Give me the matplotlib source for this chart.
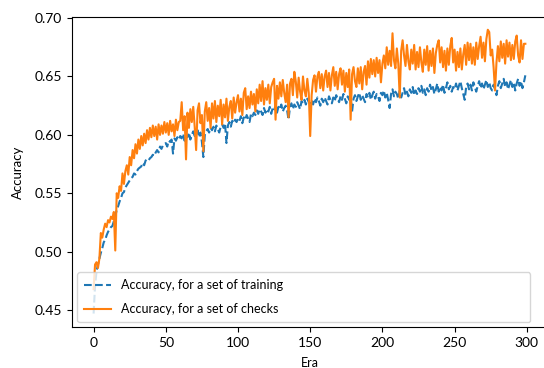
import matplotlib
matplotlib.use('Agg')
import matplotlib.pyplot as plt
import numpy as np

plt.rcParams['font.family'] = ['Lato', 'DejaVu Sans']

# Accuracy per era
train_acc = [
	0.447, 0.471, 0.483, 0.489, 0.494, 0.499, 0.503, 0.508, 0.510, 0.514,
	0.517, 0.519, 0.521, 0.522, 0.526, 0.530, 0.536, 0.539, 0.543, 0.546,
	0.550, 0.551, 0.555, 0.557, 0.559, 0.561, 0.563, 0.564, 0.567, 0.566,
	0.569, 0.571, 0.572, 0.573, 0.576, 0.574, 0.578, 0.579, 0.578, 0.580,
	0.581, 0.583, 0.582, 0.585, 0.587, 0.585, 0.590, 0.588, 0.591, 0.592,
	0.593, 0.590, 0.595, 0.594, 0.596, 0.584, 0.597, 0.595, 0.598, 0.596,
	0.599, 0.597, 0.601, 0.595, 0.600, 0.598, 0.602, 0.596, 0.600, 0.603,
	0.599, 0.601, 0.604, 0.598, 0.602, 0.594, 0.581, 0.600, 0.603, 0.605,
	0.602, 0.606, 0.604, 0.607, 0.603, 0.608, 0.605, 0.602, 0.607, 0.609,
	0.606, 0.610, 0.593, 0.608, 0.611, 0.607, 0.612, 0.610, 0.613, 0.611,
	0.614, 0.612, 0.616, 0.610, 0.615, 0.613, 0.617, 0.614, 0.611, 0.618,
	0.616, 0.619, 0.617, 0.621, 0.618, 0.622, 0.620, 0.617, 0.623, 0.619,
	0.622, 0.620, 0.624, 0.618, 0.623, 0.621, 0.625, 0.619, 0.624, 0.622,
	0.626, 0.620, 0.623, 0.625, 0.621, 0.613, 0.624, 0.627, 0.622, 0.626,
	0.624, 0.628, 0.625, 0.622, 0.629, 0.627, 0.630, 0.626, 0.631, 0.628,
	0.627, 0.630, 0.626, 0.631, 0.628, 0.632, 0.629, 0.625, 0.631, 0.628,
	0.632, 0.629, 0.626, 0.633, 0.630, 0.627, 0.632, 0.629, 0.634, 0.631,
	0.628, 0.633, 0.630, 0.635, 0.631, 0.627, 0.633, 0.630, 0.632, 0.620,
	0.631, 0.634, 0.629, 0.633, 0.636, 0.630, 0.634, 0.631, 0.628, 0.635,
	0.632, 0.636, 0.630, 0.634, 0.637, 0.631, 0.635, 0.633, 0.629, 0.636,
	0.634, 0.638, 0.632, 0.636, 0.630, 0.623, 0.635, 0.639, 0.633, 0.637,
	0.635, 0.631, 0.638, 0.632, 0.636, 0.640, 0.634, 0.637, 0.633, 0.639,
	0.636, 0.641, 0.634, 0.638, 0.635, 0.640, 0.637, 0.642, 0.636, 0.639,
	0.634, 0.640, 0.637, 0.643, 0.638, 0.641, 0.635, 0.639, 0.644, 0.637,
	0.641, 0.638, 0.643, 0.636, 0.640, 0.645, 0.639, 0.642, 0.637, 0.641,
	0.639, 0.644, 0.638, 0.642, 0.646, 0.640, 0.635, 0.630, 0.641, 0.644,
	0.639, 0.643, 0.638, 0.645, 0.641, 0.637, 0.642, 0.646, 0.640, 0.644,
	0.639, 0.643, 0.647, 0.641, 0.645, 0.640, 0.638, 0.643, 0.639, 0.634,
	0.642, 0.646, 0.640, 0.644, 0.648, 0.641, 0.645, 0.639, 0.643, 0.647,
	0.641, 0.645, 0.638, 0.644, 0.648, 0.642, 0.646, 0.640, 0.645, 0.651,
]

check_acc = [
	0.468, 0.489, 0.491, 0.486, 0.494, 0.516, 0.512, 0.519, 0.524, 0.521,
	0.527, 0.525, 0.530, 0.528, 0.534, 0.501, 0.550, 0.546, 0.556, 0.552,
	0.567, 0.558, 0.569, 0.574, 0.566, 0.581, 0.574, 0.587, 0.580, 0.592,
	0.584, 0.596, 0.588, 0.599, 0.591, 0.601, 0.593, 0.604, 0.596, 0.606,
	0.598, 0.608, 0.599, 0.607, 0.596, 0.609, 0.600, 0.608, 0.601, 0.611,
	0.602, 0.610, 0.600, 0.612, 0.603, 0.609, 0.599, 0.613, 0.604, 0.611,
	0.612, 0.628, 0.604, 0.616, 0.579, 0.619, 0.606, 0.622, 0.611, 0.624,
	0.607, 0.587, 0.621, 0.627, 0.610, 0.617, 0.586, 0.620, 0.628, 0.612,
	0.623, 0.606, 0.627, 0.614, 0.629, 0.611, 0.625, 0.616, 0.630, 0.609,
	0.626, 0.615, 0.631, 0.612, 0.624, 0.629, 0.614, 0.632, 0.619, 0.628,
	0.634, 0.620, 0.631, 0.617, 0.636, 0.640, 0.622, 0.633, 0.623, 0.637,
	0.626, 0.635, 0.620, 0.639, 0.627, 0.643, 0.629, 0.646, 0.626, 0.640,
	0.630, 0.643, 0.627, 0.641, 0.645, 0.648, 0.613, 0.642, 0.631, 0.645,
	0.633, 0.647, 0.636, 0.628, 0.643, 0.615, 0.644, 0.648, 0.634, 0.654,
	0.646, 0.632, 0.649, 0.637, 0.630, 0.650, 0.638, 0.633, 0.648, 0.636,
	0.599, 0.634, 0.647, 0.651, 0.637, 0.650, 0.654, 0.640, 0.652, 0.638,
	0.650, 0.655, 0.641, 0.653, 0.638, 0.651, 0.658, 0.642, 0.654, 0.639,
	0.652, 0.657, 0.643, 0.655, 0.637, 0.653, 0.641, 0.656, 0.613, 0.652,
	0.658, 0.646, 0.641, 0.657, 0.644, 0.658, 0.639, 0.654, 0.659, 0.643,
	0.663, 0.649, 0.665, 0.652, 0.664, 0.650, 0.666, 0.653, 0.664, 0.645,
	0.661, 0.668, 0.657, 0.675, 0.660, 0.672, 0.659, 0.687, 0.664, 0.657,
	0.674, 0.661, 0.632, 0.672, 0.681, 0.668, 0.659, 0.677, 0.663, 0.656,
	0.673, 0.661, 0.677, 0.656, 0.671, 0.658, 0.675, 0.662, 0.654, 0.673,
	0.660, 0.676, 0.655, 0.672, 0.659, 0.674, 0.653, 0.670, 0.677, 0.681,
	0.662, 0.675, 0.658, 0.672, 0.655, 0.674, 0.660, 0.676, 0.683, 0.662,
	0.673, 0.655, 0.671, 0.658, 0.674, 0.656, 0.669, 0.677, 0.660, 0.679,
	0.664, 0.678, 0.661, 0.675, 0.660, 0.679, 0.665, 0.676, 0.684, 0.666,
	0.679, 0.663, 0.682, 0.690, 0.688, 0.668, 0.673, 0.658, 0.638, 0.662,
	0.676, 0.663, 0.680, 0.666, 0.678, 0.661, 0.681, 0.667, 0.679, 0.664,
	0.677, 0.665, 0.680, 0.685, 0.668, 0.662, 0.681, 0.665, 0.678, 0.678,
]

eras = np.arange(len(train_acc))


def main():
	fig = plt.figure(figsize=(5.44, 3.68), dpi=100)
	# axes run past the right edge, the reference picture is cropped there
	ax = fig.add_axes([0.1324, 0.1114, 0.873, 0.842])

	ax.plot(eras, train_acc, '--', color='#1f77b4', label='Accuracy, for a set of training')
	ax.plot(eras, check_acc, '-', color='#ff7f0e', label='Accuracy, for a set of checks')

	ax.set_ylim(0.4355, 0.7008)
	ax.tick_params(labelsize=10)
	ax.set_xlabel('Era', fontsize=9, labelpad=6)
	ax.set_ylabel('Accuracy', fontsize=9.5, labelpad=8)

	ax.legend(loc='lower left', mode='expand', borderaxespad=0,
			bbox_to_anchor=(0.0105, 0.016, 0.954, 0.2),
			fontsize=9, handlelength=2.2, labelspacing=0.95, borderpad=0.55)

	fig.savefig('out.png', dpi=100)


if __name__ == '__main__':
	main()
